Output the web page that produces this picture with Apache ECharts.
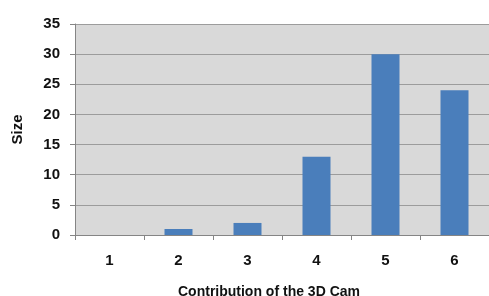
<!DOCTYPE html>
<html>
<head>
<meta charset="utf-8">
<script src="https://cdn.jsdelivr.net/npm/echarts@6/dist/echarts.min.js"></script>
<style>
  html, body { margin: 0; padding: 0; background: #fff; }
  #chart { width: 489px; height: 296px; }
</style>
</head>
<body>
<div id="chart"></div>
<script>
// categories and values
const categories = ['1', '2', '3', '4', '5', '6'];
const sizeValues = [0, 1, 2, 13, 30, 24];
const xTitle = 'Contribution of the 3D Cam';
const yTitle = 'Size';

const font = 'Liberation Sans, Arial, sans-serif';
const chart = echarts.init(document.getElementById('chart'));

chart.setOption({
  animation: false,
  textStyle: { fontFamily: font },
  title: {
    text: xTitle,
    left: 173,
    top: 280,
    textStyle: { fontFamily: font, fontSize: 14, fontWeight: 'bold', color: '#111' }
  },
  grid: {
    left: 75,
    top: 24,
    right: -6,
    bottom: 61,
    show: true,
    backgroundColor: '#d9d9d9',
    borderWidth: 0
  },
  xAxis: {
    type: 'category',
    data: categories,
    axisLine: { lineStyle: { color: '#858585', width: 1 } },
    axisTick: { show: true, length: 5, lineStyle: { color: '#858585' } },
    axisLabel: { margin: 18, fontSize: 15, fontWeight: 'bold', color: '#111' }
  },
  yAxis: {
    type: 'value',
    min: 0,
    max: 35,
    interval: 5,
    name: yTitle,
    nameLocation: 'middle',
    nameGap: 50,
    nameTextStyle: { fontSize: 15, fontWeight: 'bold', color: '#111' },
    axisLine: { show: true, lineStyle: { color: '#858585' } },
    axisTick: { show: true, length: 5, lineStyle: { color: '#858585' } },
    axisLabel: { margin: 15, fontSize: 15, fontWeight: 'bold', color: '#111' },
    splitLine: { lineStyle: { color: '#9c9c9c', width: 1 } }
  },
  series: [{
    type: 'bar',
    data: sizeValues,
    barWidth: 28,
    itemStyle: { color: '#4a7ebb' }
  }]
});
</script>
</body>
</html>
